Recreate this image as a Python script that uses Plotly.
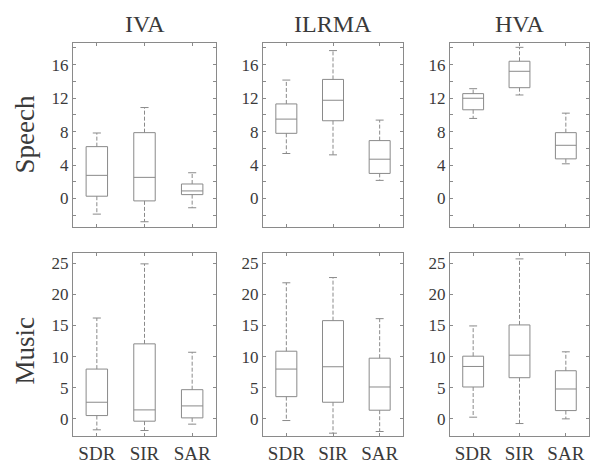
import plotly.graph_objects as go
from plotly.subplots import make_subplots

methods = ["IVA", "ILRMA", "HVA"]
metrics = ["SDR", "SIR", "SAR"]
row_names = ["Speech", "Music"]
positions = [1, 2, 3]

# Speech: per method (IVA, ILRMA, HVA) -> per metric (SDR, SIR, SAR)
speech_upper = [[7.83, 10.87, 3.08], [14.15, 17.67, 9.37], [13.12, 18.06, 10.2]]
speech_q3 = [[6.2, 7.87, 1.74], [11.3, 14.23, 6.92], [12.53, 16.4, 7.87]]
speech_median = [[2.77, 2.53, 0.91], [9.49, 11.74, 4.7], [11.98, 15.2, 6.36]]
speech_q1 = [[0.28, -0.28, 0.47], [7.79, 9.29, 3.0], [10.6, 13.24, 4.74]]
speech_lower = [[-1.86, -2.77, -1.1], [5.38, 5.22, 2.17], [9.57, 12.37, 4.15]]

# Music
music_upper = [[16.2, 24.9, 10.7], [21.86, 22.7, 16.1], [14.93, 25.7, 10.77]]
music_q3 = [[8.0, 12.05, 4.69], [10.87, 15.78, 9.75], [10.07, 15.09, 7.73]]
music_median = [[2.67, 1.44, 2.08], [8.0, 8.37, 5.12], [8.42, 10.23, 4.8]]
music_q1 = [[0.53, -0.37, 0.16], [3.57, 2.67, 1.39], [5.12, 6.61, 1.33]]
music_lower = [[-1.76, -1.87, -0.85], [-0.27, -2.3, -2.03], [0.27, -0.75, 0.0]]

speech_ticks = [0, 4, 8, 12, 16]
music_ticks = [0, 5, 10, 15, 20, 25]

FONT = "Liberation Serif"
LINE = "#8a8a8a"
TEXT = "#3a3a3a"
BOX_W = 0.45
CAP_W = 0.17

W, H = 593, 464
col_px = [(73, 216), (263, 403), (450, 589)]
row_px = [(43, 228), (254, 438)]

fig = make_subplots(rows=2, cols=3)

rows_data = [
    (speech_lower, speech_q1, speech_median, speech_q3, speech_upper),
    (music_lower, music_q1, music_median, music_q3, music_upper),
]

for r, (lo, q1, med, q3, up) in enumerate(rows_data):
    for c in range(3):
        fig.add_trace(go.Box(
            x=positions, q1=q1[c], median=med[c], q3=q3[c],
            lowerfence=q1[c], upperfence=q3[c], width=BOX_W,
            line=dict(color=LINE, width=1), fillcolor="rgba(0,0,0,0)",
            boxpoints=False, whiskerwidth=0, hoverinfo="skip", showlegend=False,
        ), row=r + 1, col=c + 1)
        wx, wy, cx, cy = [], [], [], []
        for i, p in enumerate(positions):
            wx += [p, p, None, p, p, None]
            wy += [q3[c][i], up[c][i], None, q1[c][i], lo[c][i], None]
            cx += [p - CAP_W / 2, p + CAP_W / 2, None, p - CAP_W / 2, p + CAP_W / 2, None]
            cy += [up[c][i], up[c][i], None, lo[c][i], lo[c][i], None]
        fig.add_trace(go.Scatter(x=wx, y=wy, mode="lines",
                                 line=dict(color=LINE, width=1, dash="4px,2px"),
                                 hoverinfo="skip", showlegend=False), row=r + 1, col=c + 1)
        fig.add_trace(go.Scatter(x=cx, y=cy, mode="lines",
                                 line=dict(color=LINE, width=1),
                                 hoverinfo="skip", showlegend=False), row=r + 1, col=c + 1)

for r in range(2):
    for c in range(3):
        idx = r * 3 + c + 1
        xa = "xaxis" if idx == 1 else f"xaxis{idx}"
        ya = "yaxis" if idx == 1 else f"yaxis{idx}"
        x0, x1 = col_px[c]
        y0, y1 = row_px[r]
        fig.layout[xa].update(
            domain=[x0 / W, x1 / W], range=[0.5, 3.5],
            tickvals=positions, ticktext=metrics if r == 1 else ["", "", ""],
            showticklabels=(r == 1),
            ticks="inside", ticklen=3, tickcolor=LINE, mirror="ticks",
            showline=True, linecolor=LINE, linewidth=1, showgrid=False, zeroline=False,
            tickfont=dict(family=FONT, size=19, color=TEXT),
        )
        if r == 0:
            yr = [-3.4, 18.6]
            tv = speech_ticks
            minor = dict(dtick=2, ticks="inside", ticklen=3, tickcolor=LINE, showgrid=False)
        else:
            yr = [-2.77, 26.66]
            tv = music_ticks
            minor = None
        fig.layout[ya].update(
            domain=[1 - y1 / H, 1 - y0 / H], range=yr,
            tickvals=tv, ticks="inside", ticklen=3, tickcolor=LINE, mirror="ticks",
            showline=True, linecolor=LINE, linewidth=1, showgrid=False, zeroline=False,
            tickfont=dict(family=FONT, size=17, color=TEXT),
        )
        if minor:
            fig.layout[ya].minor = minor

annotations = []
for c, m in enumerate(methods):
    x0, x1 = col_px[c]
    annotations.append(dict(text=m, x=(x0 + x1) / 2 / W, y=1 - 24 / H,
                            xref="paper", yref="paper", showarrow=False,
                            xanchor="center", yanchor="middle",
                            font=dict(family=FONT, size=24, color=TEXT)))
row_centers = [135, 352]
for r, name in enumerate(row_names):
    annotations.append(dict(text=name, x=25 / W, y=1 - row_centers[r] / H,
                            xref="paper", yref="paper", showarrow=False, textangle=-90,
                            xanchor="center", yanchor="middle",
                            font=dict(family=FONT, size=27, color=TEXT)))

fig.update_layout(
    width=W, height=H, margin=dict(l=0, r=0, t=0, b=0),
    paper_bgcolor="white", plot_bgcolor="white",
    annotations=annotations, showlegend=False,
)

fig.write_html(
    "out.html",
    config={"displayModeBar": False},
    post_script="document.body.style.margin='0';document.body.style.padding='0';"
                "document.documentElement.style.overflow='hidden';",
)
